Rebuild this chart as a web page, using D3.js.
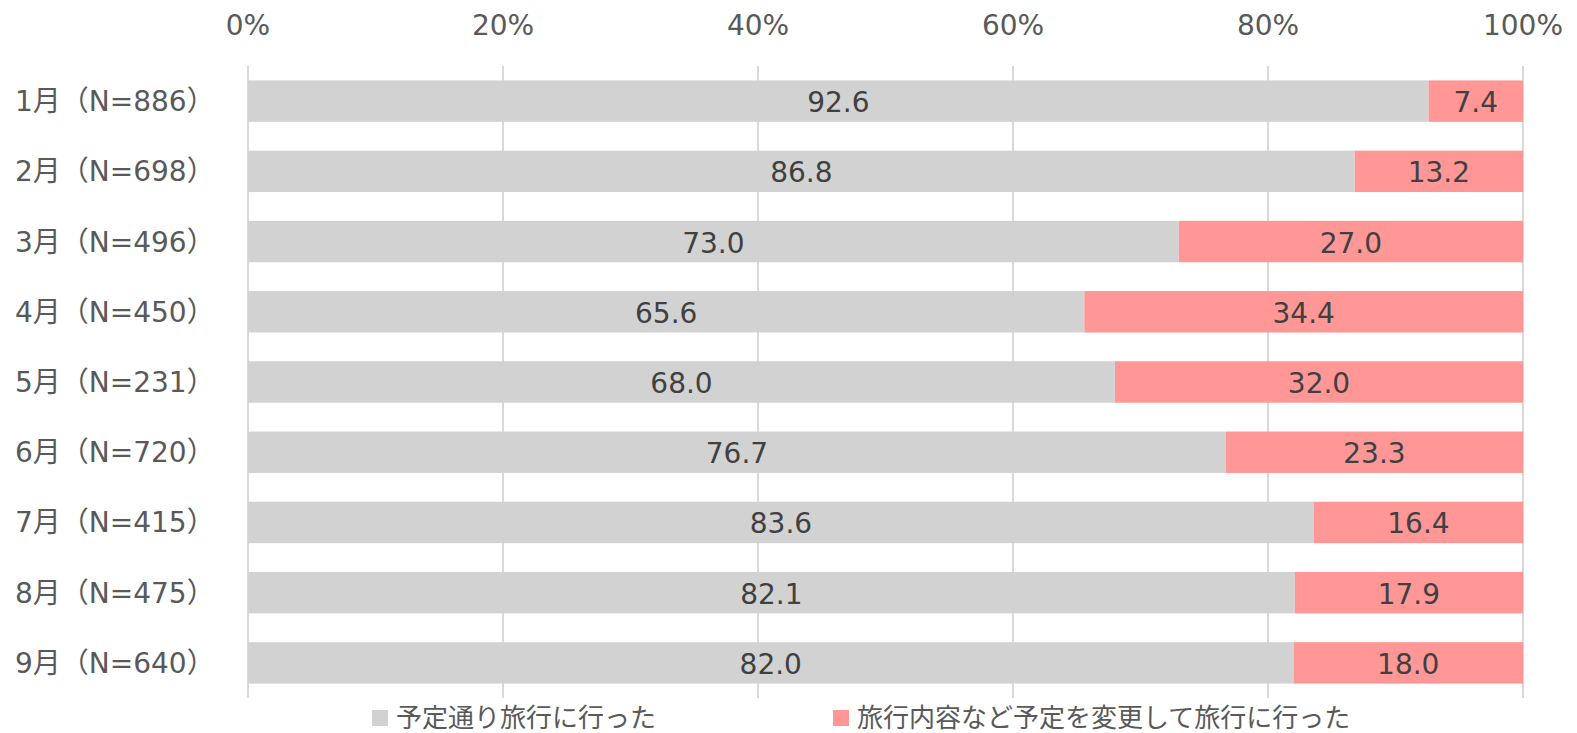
<!DOCTYPE html>
<html>
<head>
<meta charset="utf-8">
<script src="https://cdn.jsdelivr.net/npm/d3@7"></script>
<style>
  body { margin: 0; background: #fff; }
  svg text { font-family: "DejaVu Sans", "Noto Sans CJK JP", sans-serif; }
</style>
</head>
<body>
<svg id="chart" width="1577" height="733"></svg>
<script>
// categories and values (percent)
const months = ["1月（N=886）", "2月（N=698）", "3月（N=496）", "4月（N=450）", "5月（N=231）",
                "6月（N=720）", "7月（N=415）", "8月（N=475）", "9月（N=640）"];
const asPlanned = [92.6, 86.8, 73.0, 65.6, 68.0, 76.7, 83.6, 82.1, 82.0];
const changed   = [7.4, 13.2, 27.0, 34.4, 32.0, 23.3, 16.4, 17.9, 18.0];
const seriesNames = ["予定通り旅行に行った", "旅行内容など予定を変更して旅行に行った"];
const colors = ["#d2d2d2", "#ff9797"];
const xTicks = [0, 20, 40, 60, 80, 100];

const svg = d3.select('#chart');

const x = d3.scaleLinear().domain([0, 100]).range([248, 1523]);
const y = d3.scaleBand().domain(months).range([66, 698]).paddingInner(0.41).paddingOuter(0.205);

// gridlines
svg.append('g')
  .selectAll('line')
  .data(xTicks)
  .join('line')
    .attr('x1', d => x(d)).attr('x2', d => x(d))
    .attr('y1', 66).attr('y2', 698)
    .attr('stroke', '#d9d9d9')
    .attr('stroke-width', 2);

// top axis labels
svg.append('g')
  .selectAll('text')
  .data(xTicks)
  .join('text')
    .attr('x', d => x(d))
    .attr('y', 35)
    .attr('text-anchor', 'middle')
    .attr('font-size', 28)
    .attr('fill', '#595959')
    .text(d => d + '%');

// category labels
svg.append('g')
  .selectAll('text')
  .data(months)
  .join('text')
    .attr('x', 15)
    .attr('y', d => y(d) + y.bandwidth() / 2 + 10)
    .attr('font-size', 28)
    .attr('fill', '#595959')
    .text(d => d);

// stacked bars
const rows = months.map((m, i) => ({ m, segs: [
  { s: 0, v: asPlanned[i], x0: 0 },
  { s: 1, v: changed[i], x0: asPlanned[i] }
]}));

const g = svg.append('g');
rows.forEach(r => {
  r.segs.forEach(seg => {
    g.append('rect')
      .attr('x', x(seg.x0))
      .attr('y', y(r.m))
      .attr('width', x(seg.x0 + seg.v) - x(seg.x0))
      .attr('height', y.bandwidth())
      .attr('fill', colors[seg.s]);
    g.append('text')
      .attr('x', x(seg.x0 + seg.v / 2))
      .attr('y', y(r.m) + y.bandwidth() / 2 + 11)
      .attr('text-anchor', 'middle')
      .attr('font-size', 28)
      .attr('fill', '#404040')
      .text(seg.v.toFixed(1));
  });
});

// legend
const legendX = [372, 833];
seriesNames.forEach((name, i) => {
  svg.append('rect')
    .attr('x', legendX[i]).attr('y', 710)
    .attr('width', 16).attr('height', 16)
    .attr('fill', colors[i]);
  svg.append('text')
    .attr('x', legendX[i] + 24)
    .attr('y', 727)
    .attr('font-size', 26)
    .attr('fill', '#595959')
    .text(name);
});
</script>
</body>
</html>
